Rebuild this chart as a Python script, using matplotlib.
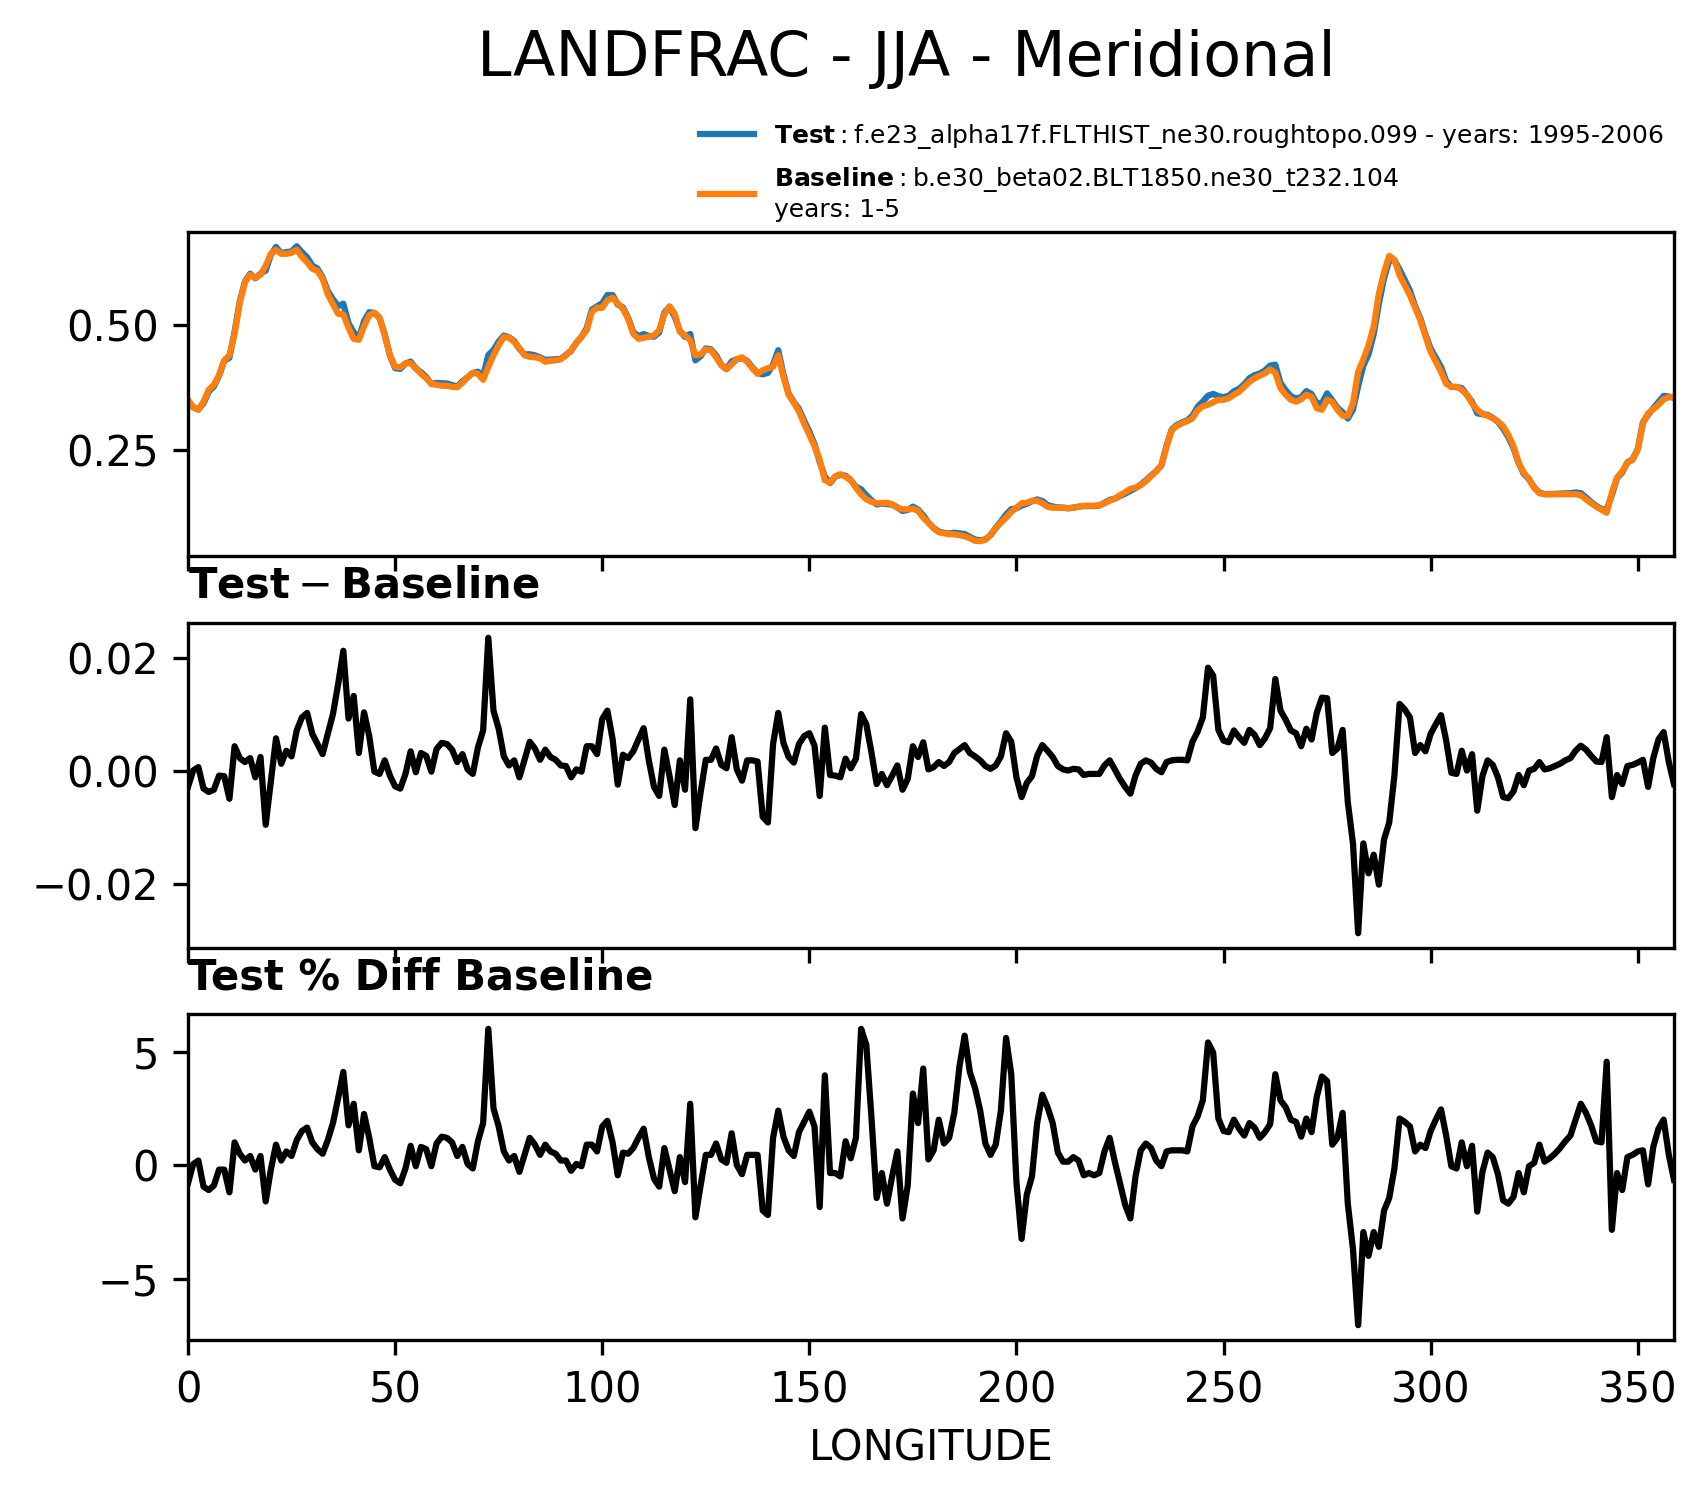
import numpy as np
import matplotlib
matplotlib.use("Agg")
import matplotlib.pyplot as plt

DPI = 300

# longitude grid (1.25 deg)
lon = np.arange(288) * 1.25

# LANDFRAC baseline
baseline = [
    0.351, 0.336, 0.331, 0.347, 0.371, 0.381, 0.40, 0.43, 0.44, 0.483,
    0.546, 0.586, 0.601, 0.595, 0.601, 0.619, 0.643, 0.651, 0.643, 0.643,
    0.645, 0.651, 0.637, 0.626, 0.613, 0.609, 0.593, 0.562, 0.542, 0.523,
    0.522, 0.495, 0.473, 0.471, 0.498, 0.52, 0.525, 0.515, 0.48, 0.44,
    0.417, 0.416, 0.424, 0.424, 0.414, 0.403, 0.394, 0.383, 0.381, 0.379,
    0.379, 0.377, 0.376, 0.385, 0.396, 0.405, 0.403, 0.391, 0.417, 0.44,
    0.46, 0.477, 0.475, 0.467, 0.454, 0.44, 0.437, 0.436, 0.434, 0.427,
    0.429, 0.43, 0.432, 0.44, 0.45, 0.465, 0.477, 0.49, 0.527, 0.535,
    0.535, 0.55, 0.555, 0.544, 0.533, 0.513, 0.483, 0.473, 0.475, 0.477,
    0.48, 0.49, 0.522, 0.538, 0.523, 0.487, 0.48, 0.47, 0.44, 0.442,
    0.452, 0.45, 0.436, 0.42, 0.412, 0.422, 0.432, 0.436, 0.427, 0.414,
    0.403, 0.41, 0.414, 0.417, 0.44, 0.397, 0.361, 0.345, 0.328, 0.303,
    0.281, 0.258, 0.231, 0.19, 0.185, 0.198, 0.202, 0.197, 0.19, 0.175,
    0.162, 0.152, 0.147, 0.144, 0.144, 0.145, 0.142, 0.135, 0.132, 0.132,
    0.133, 0.129, 0.115, 0.105, 0.094, 0.086, 0.084, 0.082, 0.082, 0.08,
    0.078, 0.074, 0.069, 0.068, 0.071, 0.08, 0.094, 0.105, 0.115, 0.127,
    0.135, 0.144, 0.145, 0.149, 0.149, 0.144, 0.137, 0.135, 0.135, 0.135,
    0.134, 0.135, 0.137, 0.139, 0.139, 0.139, 0.14, 0.144, 0.149, 0.153,
    0.16, 0.166, 0.173, 0.175, 0.18, 0.188,
    0.198, 0.208, 0.22, 0.258, 0.29, 0.299, 0.304, 0.308, 0.314, 0.33,
    0.338, 0.341, 0.346, 0.351, 0.351, 0.354, 0.361, 0.367, 0.377, 0.387,
    0.394, 0.399, 0.404, 0.412, 0.405, 0.374, 0.361, 0.351, 0.347, 0.352,
    0.361, 0.357, 0.334, 0.331, 0.351, 0.347, 0.331, 0.319, 0.319, 0.344,
    0.407, 0.432, 0.46, 0.497, 0.563, 0.606, 0.639, 0.631, 0.6, 0.58,
    0.56, 0.535, 0.51, 0.478, 0.447, 0.427, 0.407, 0.383, 0.377, 0.377,
    0.371, 0.361, 0.344, 0.331, 0.323, 0.319, 0.314, 0.308, 0.298, 0.281,
    0.258, 0.225, 0.205, 0.192, 0.175, 0.164, 0.162, 0.162, 0.162, 0.162,
    0.162, 0.162, 0.162, 0.16, 0.152, 0.144, 0.137, 0.131, 0.125, 0.165,
    0.195, 0.208, 0.225, 0.231, 0.251, 0.304, 0.324, 0.332, 0.341, 0.352,
    0.356, 0.357,
]

# Test - Baseline
diff = [
    -0.0029, 0.0, 0.0006, -0.0032, -0.0038, -0.0034, -0.0009, -0.001, -0.005, 0.0043,
    0.0022, 0.0015, 0.0022, -0.0012, 0.0024, -0.0096, -0.002, 0.0057, 0.0012, 0.0035,
    0.0025, 0.0071, 0.0094, 0.0102, 0.0065, 0.0047, 0.0029, 0.0065, 0.01, 0.0153,
    0.0212, 0.0092, 0.0132, 0.0031, 0.0103, 0.0061, -0.0002, -0.0006, 0.0018, -0.0009,
    -0.0028, -0.0032, -0.0006, 0.0034, -0.0003, 0.0031, 0.0026, -0.0002, 0.0038, 0.0049,
    0.0047, 0.0037, 0.0015, 0.0029, 0.0002, -0.0006, 0.0041, 0.0071, 0.0235, 0.0106,
    0.0074, 0.0025, 0.0009, 0.0018, -0.0012, 0.0019, 0.0051, 0.0039, 0.0019, 0.0037,
    0.0024, 0.0019,
    0.0009, 0.0008, -0.0012, 0.0002, -0.0002, 0.0043, 0.0043, 0.0029, 0.0091, 0.0106,
    0.0056, -0.0025, 0.0028, 0.0022, 0.0034, 0.0055, 0.0075, 0.0018, -0.0029, -0.0045,
    0.0037, -0.001, -0.0061, 0.0018, -0.0034, 0.0126, -0.0102, -0.0039, 0.0019, 0.0019,
    0.0039, 0.001, 0.0004, 0.0059, 0.0002, -0.0018, 0.0018, 0.0018, 0.0016, -0.0082,
    -0.0092, 0.0047, 0.0102, 0.0049, 0.0024, 0.0014, 0.0047, 0.0061, 0.0066, 0.0044,
    -0.0045, 0.0076, -0.0008, -0.0009, -0.0012, 0.0021, 0.0004, 0.0021, 0.01, 0.0082,
    0.0032, -0.0024, -0.0006, -0.0026, -0.0009, 0.0009, -0.0034, -0.0015, 0.0043, 0.0024,
    0.005, 0.0002, 0.0006,
    0.0015, 0.0008, 0.0015, 0.0031, 0.0038, 0.0045, 0.0031, 0.0025, 0.0018, 0.0008,
    0.0003, 0.0009, 0.0025, 0.0066, 0.0051, -0.0012, -0.0047, -0.0022, -0.001, 0.0026,
    0.0045, 0.0035, 0.0024, 0.0008, 0.0002, 0.0, 0.0003, 0.0002, -0.0008, -0.0006,
    -0.0006, -0.0006, 0.0009, 0.0018, 0.0002, -0.0015, -0.0029, -0.0041, -0.0009, 0.0012,
    0.0018, 0.0014, 0.0003, -0.0003, 0.0015, 0.0018, 0.0019, 0.0019, 0.0018, 0.0051,
    0.0069, 0.0094, 0.0182, 0.0168, 0.0072, 0.0053, 0.005, 0.0071, 0.0059, 0.0049,
    0.0072, 0.0063, 0.0045, 0.0057, 0.0075, 0.0162, 0.0106, 0.009, 0.0071, 0.0066,
    0.0043, 0.0074,
    0.0055, 0.0102, 0.0129, 0.0128, 0.0031, 0.0039, 0.0072, -0.0056, -0.0129, -0.0288,
    -0.0129, -0.0182, -0.0149, -0.0202, -0.0122, -0.0092, -0.0009, 0.0118, 0.0108, 0.0094,
    0.0031, 0.0045, 0.0034, 0.0065, 0.0082, 0.0098, 0.0053, -0.0004, -0.0006, 0.0035,
    0.0, 0.0029, -0.0071, -0.001, 0.0018, 0.001, -0.0012, -0.0047, -0.0049, -0.0037,
    -0.0008, -0.0026, 0.0, 0.0003, 0.0015, 0.0002, 0.0004, 0.0008, 0.0012, 0.0018,
    0.0022, 0.0035, 0.0044, 0.0037, 0.0026, 0.0016, 0.0015, 0.0059, -0.0047, -0.0008,
    -0.0024, 0.0008, 0.001, 0.0014, 0.0019, -0.0029, 0.0022, 0.0055, 0.0068, 0.0015,
    -0.0024,
]

# Test % Diff Baseline
pct_diff = [
    -0.8, 0.04, 0.2, -0.95, -1.1, -0.9, -0.2, -0.2, -1.2, 1.0,
    0.5, 0.2, 0.4, -0.2, 0.4, -1.6, -0.2, 0.9, 0.2, 0.6,
    0.4, 1.1, 1.5, 1.65, 1.0, 0.7, 0.5, 1.1, 1.85, 2.95,
    4.1, 1.75, 2.7, 0.65, 2.25, 1.2, -0.05, -0.1, 0.35, -0.2,
    -0.65, -0.8, -0.15, 0.85, -0.05, 0.8, 0.7, -0.05, 0.95, 1.25,
    1.2, 1.0, 0.4, 0.8, 0.05, -0.15, 1.05, 1.85, 6.0, 2.5,
    1.7, 0.6, 0.2, 0.4, -0.3, 0.45, 1.2, 0.9, 0.45, 0.9,
    0.6, 0.5,
    0.2, 0.2, -0.25, 0.05, -0.05, 0.9, 0.9, 0.6, 1.7, 1.95,
    1.0, -0.45, 0.55, 0.5, 0.75, 1.2, 1.6, 0.35, -0.6, -0.95,
    0.75, -0.2, -1.15, 0.35, -0.75, 2.7, -2.3, -0.9, 0.45, 0.45,
    0.95, 0.25, 0.1, 1.4, 0.0, -0.4, 0.45, 0.45, 0.45, -2.0,
    -2.2, 1.2, 2.4, 1.25, 0.65, 0.4, 1.45, 1.9, 2.35, 1.7,
    -1.85, 3.95, -0.35, -0.35, -0.5, 1.05, 0.3, 1.2, 6.0, 5.3,
    2.1, -1.45, -0.35, -1.7, -0.5, 0.6, -2.35, -0.9, 3.15, 1.85,
    4.25, 0.25, 0.65,
    2.0, 0.95, 1.2, 2.3, 4.35, 5.7, 4.1, 3.4, 2.4, 0.95,
    0.45, 0.9, 2.4, 5.6, 4.0, -0.75, -3.25, -1.3, -0.5, 1.85,
    3.1, 2.55, 1.85, 0.55, 0.15, 0.15, 0.35, 0.2, -0.45, -0.35,
    -0.45, -0.35, 0.6, 1.2, 0.15, -0.8, -1.75, -2.35, -0.5, 0.65,
    0.95, 0.75, 0.2, -0.05, 0.6, 0.65, 0.65, 0.65, 0.6, 1.7,
    2.15, 2.85, 5.4, 4.95, 2.05, 1.5, 1.45, 2.0, 1.6, 1.3,
    1.85, 1.65, 1.2, 1.45, 1.8, 4.0, 2.85, 2.55, 2.0, 1.9,
    1.25, 2.05,
    1.45, 3.0, 3.9, 3.7, 0.9, 1.2, 2.3, -1.7, -3.7, -7.05,
    -2.95, -4.0, -2.95, -3.6, -2.0, -1.45, -0.15, 2.05, 1.9, 1.7,
    0.6, 0.9, 0.75, 1.5, 2.0, 2.45, 1.3, -0.05, -0.15, 1.0,
    -0.05, 0.85, -2.05, -0.3, 0.55, 0.35, -0.4, -1.55, -1.7, -1.4,
    -0.35, -1.2, -0.05, 0.1, 0.9, 0.15, 0.3, 0.5, 0.75, 1.05,
    1.3, 2.0, 2.7, 2.3, 1.75, 1.05, 1.0, 4.55, -2.85, -0.35,
    -1.1, 0.35, 0.45, 0.6, 0.65, -0.85, 0.8, 1.6, 2.0, 0.45,
    -0.65,
]

# test field is baseline plus the plotted difference
test = np.array(baseline) + np.array(diff)

test_label = r"$\bf{Test}$" + "\u2009:\u2009f.e23_alpha17f.FLTHIST_ne30.roughtopo.099 - years: 1995-2006"
base_label = r"$\bf{Baseline}$" + "\u2009:\u2009b.e30_beta02.BLT1850.ne30_t232.104\nyears: 1-5"

fig = plt.figure(figsize=(1708 / DPI, 1496 / DPI), dpi=DPI)

left = 188 / 1708
width = 1486 / 1708
ax1 = fig.add_axes([left, 1 - 556 / 1496, width, 324.5 / 1496])
ax2 = fig.add_axes([left, 1 - 948 / 1496, width, 325 / 1496], sharex=ax1)
ax3 = fig.add_axes([left, 1 - 1340 / 1496, width, 326 / 1496], sharex=ax1)

# top panel: test and baseline
ax1.plot(lon, test, color="#1f77b4", lw=1.5, label=test_label)
ax1.plot(lon, baseline, color="#ff7f0e", lw=1.5, label=base_label)
ax1.set_yticks([0.25, 0.50])
ax1.legend(loc="lower right", bbox_to_anchor=(1.0, 1.0), frameon=False,
           fontsize=6.0, handlelength=2.15, borderaxespad=0.0, labelspacing=0.55)

# middle panel: difference
ax2.plot(lon, diff, color="k", lw=1.5)
ax2.set_yticks([-0.02, 0.0, 0.02])
ax2.set_title(r"$\mathbf{Test} - \mathbf{Baseline}$", loc="left", fontsize=10)

# bottom panel: percent difference
ax3.plot(lon, pct_diff, color="k", lw=1.5)
ax3.set_yticks([-5, 0, 5])
ax3.set_title("Test % Diff Baseline", loc="left", fontsize=10, fontweight="bold")
ax3.set_xlabel("LONGITUDE")
ax3.set_xlim(lon[0], lon[-1])

for ax in (ax1, ax2):
    ax.tick_params(labelbottom=False)

fig.text(906 / 1708, 1 - 59 / 1496, "LANDFRAC - JJA - Meridional",
         ha="center", va="center", fontsize=14.9)

fig.savefig("out.png", dpi=DPI)
